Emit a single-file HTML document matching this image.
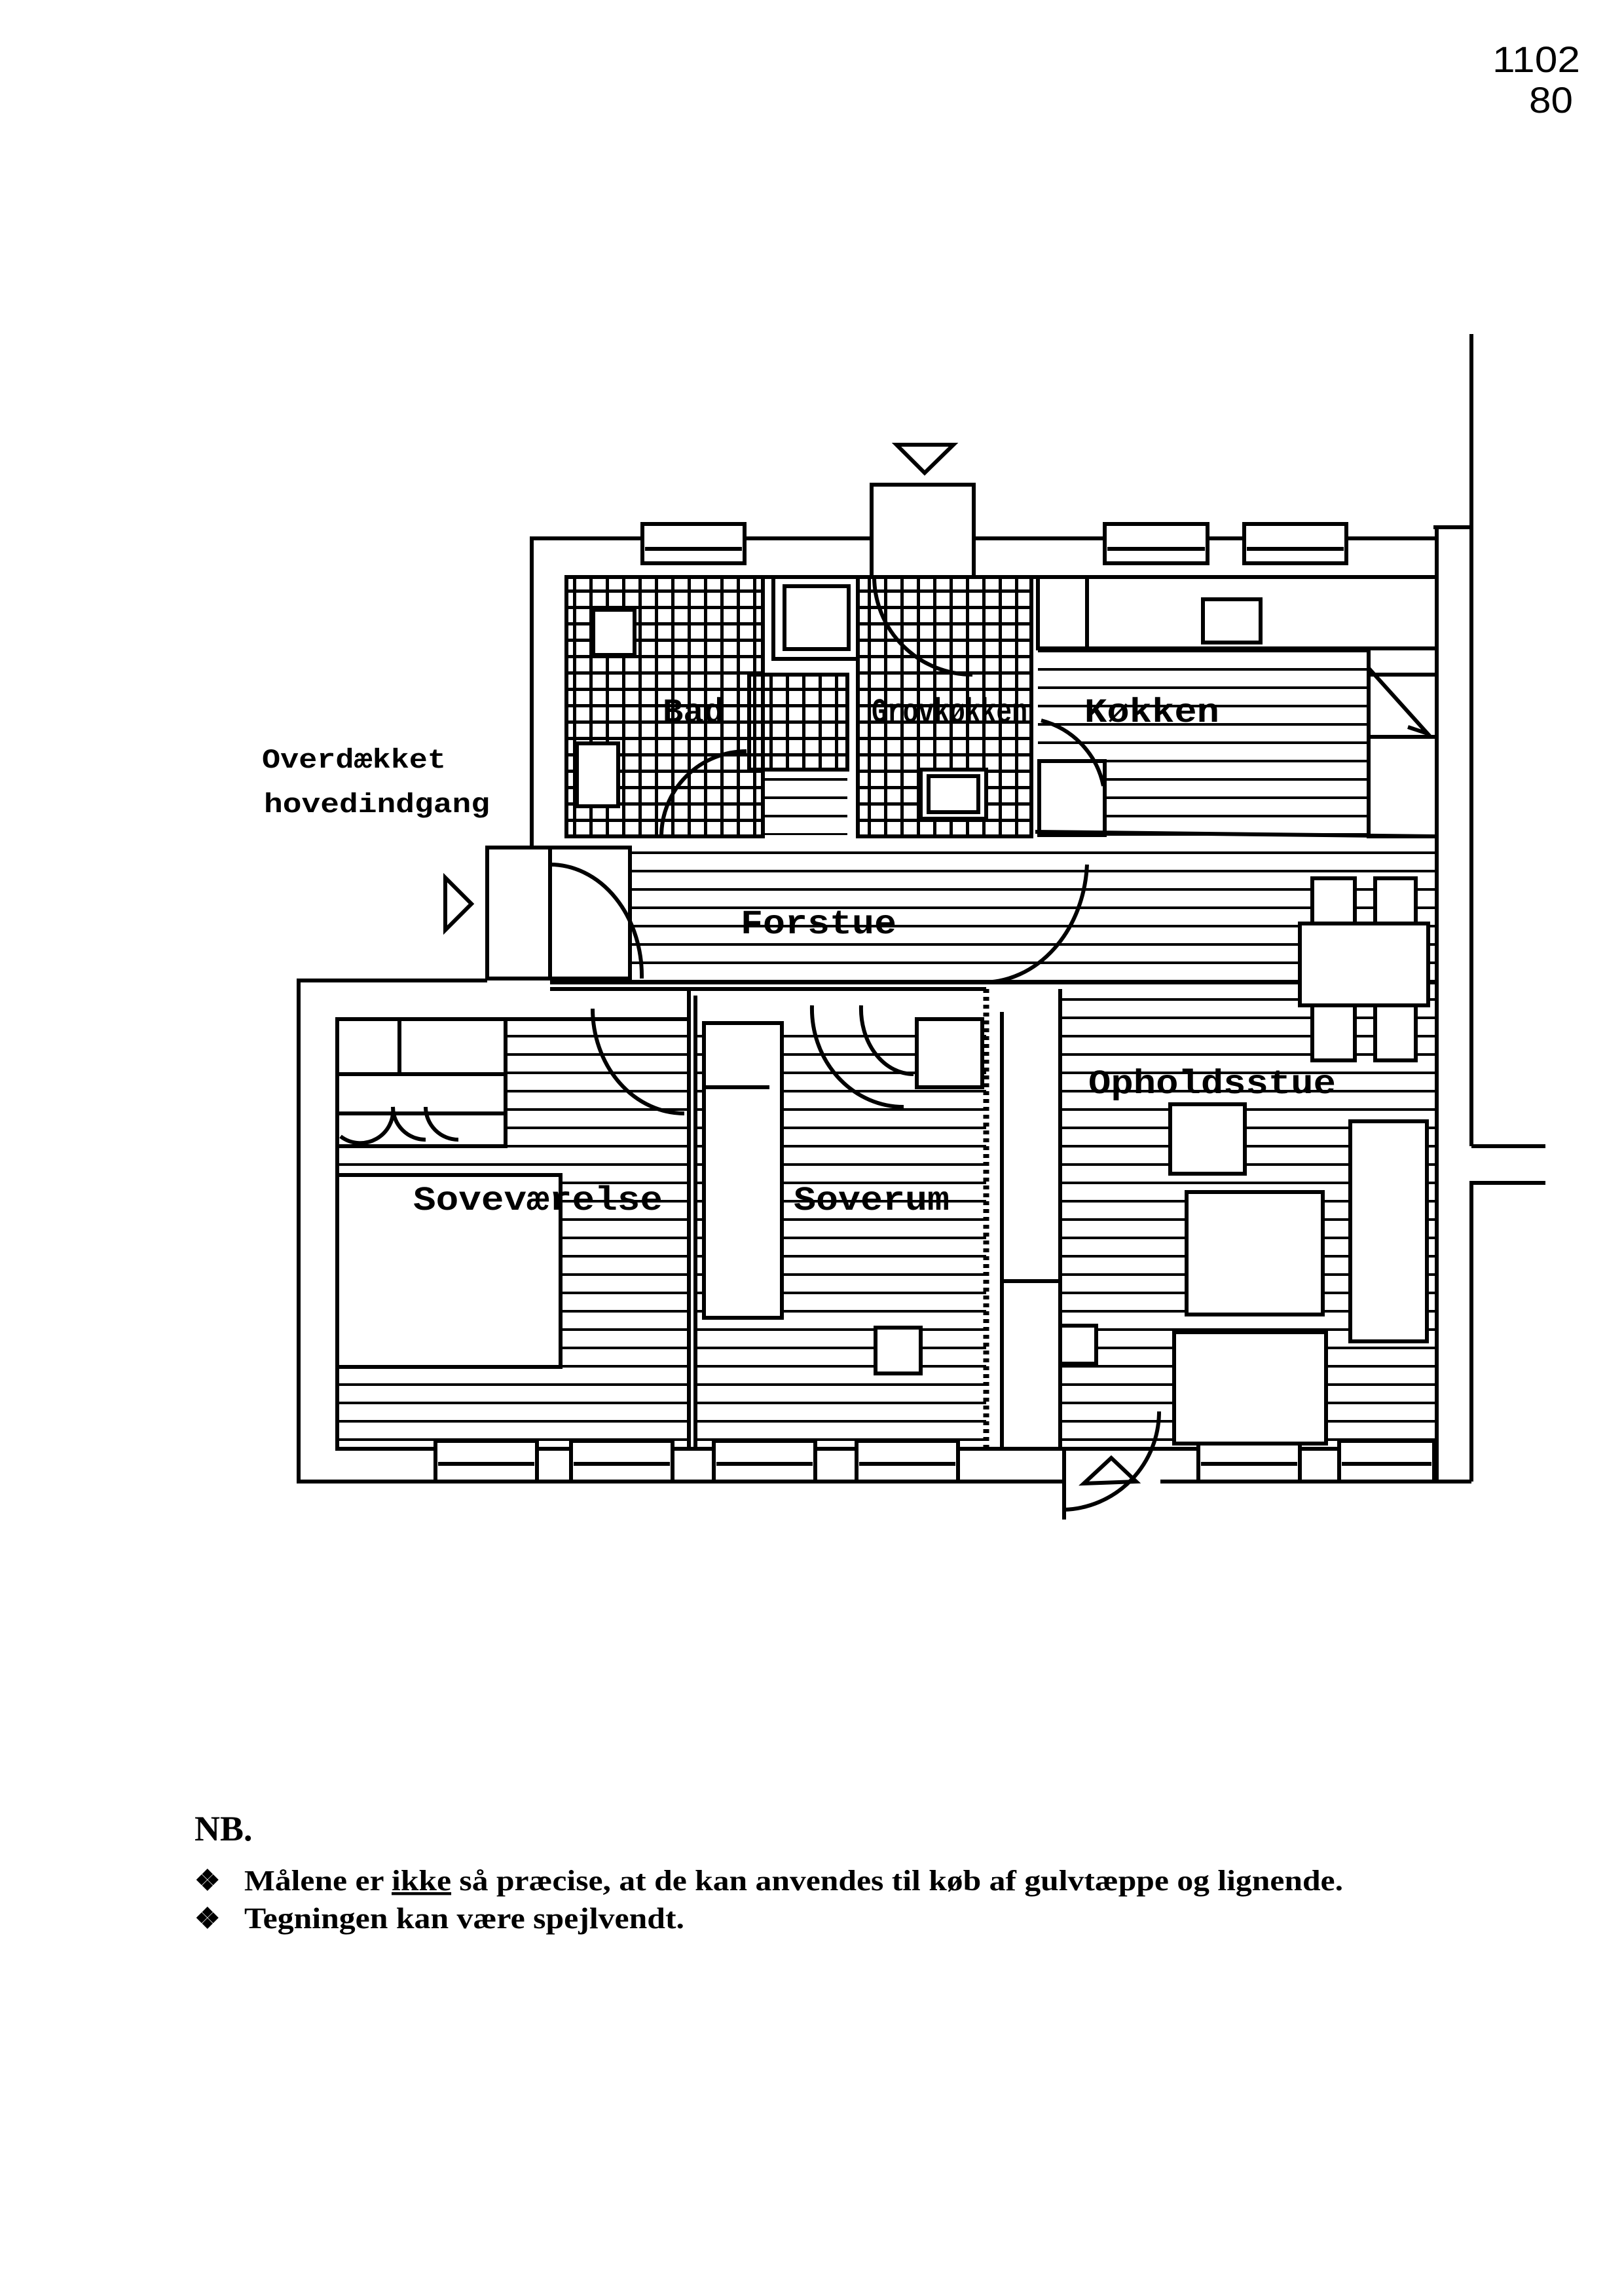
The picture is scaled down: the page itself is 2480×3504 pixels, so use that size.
<!DOCTYPE html>
<html><head><meta charset="utf-8"><style>
html,body{margin:0;padding:0;background:#fff;}
svg{display:block;}
.t{font-family:"Liberation Mono",monospace;font-weight:bold;fill:#000;}
.n{font-family:"Liberation Serif",serif;font-weight:bold;fill:#000;}
</style></head><body>
<svg width="2480" height="3504" viewBox="0 0 2480 3504" xmlns="http://www.w3.org/2000/svg">
<defs>
<pattern id="h" width="40" height="28" patternUnits="userSpaceOnUse"><rect width="40" height="28" fill="#fff"/><rect y="12" width="40" height="4" fill="#000"/></pattern>
<pattern id="g" width="25" height="25" patternUnits="userSpaceOnUse"><rect width="25" height="25" fill="#fff"/><rect width="25" height="5" fill="#000"/><rect width="5" height="25" fill="#000"/></pattern>
</defs>
<g stroke="#000" stroke-width="6" fill="none">
<rect x="1585" y="990" width="505" height="287" fill="url(#h)" stroke="none"/>
<rect x="962" y="1294" width="1232" height="206" fill="url(#h)" stroke="none"/>
<rect x="515" y="1556" width="537" height="656" fill="url(#h)" stroke="none"/>
<rect x="1062" y="1556" width="444" height="656" fill="url(#h)" stroke="none"/>
<rect x="1619" y="1510" width="575" height="702" fill="url(#h)" stroke="none"/>
<rect x="1144" y="1175" width="150" height="100" fill="url(#h)" stroke="none"/>
<rect x="865" y="881" width="300" height="396" fill="url(#g)"/>
<rect x="1310" y="881" width="265" height="396" fill="url(#g)"/>
<rect x="1144" y="1030" width="150" height="145" fill="url(#g)"/>
<polyline points="812,1294 812,822 2194,822"/>
<polyline points="865,1277 865,881 2194,881"/>
<line x1="2194" y1="805" x2="2194" y2="2262"/>
<line x1="2247" y1="510" x2="2247" y2="1750"/>
<line x1="2247" y1="1750" x2="2360" y2="1750"/>
<polyline points="2360,1806 2247,1806 2247,2262"/>
<line x1="2189" y1="805" x2="2247" y2="805"/>
<rect x="981" y="800" width="156" height="60" fill="#fff"/><line x1="985" y1="838" x2="1133" y2="838"/>
<rect x="1687" y="800" width="157" height="60" fill="#fff"/><line x1="1691" y1="838" x2="1840" y2="838"/>
<rect x="1900" y="800" width="156" height="60" fill="#fff"/><line x1="1904" y1="838" x2="2052" y2="838"/>
<rect x="1331" y="740" width="156" height="141" fill="#fff"/>
<polygon points="1369,679 1456,679 1412,722"/>
<path d="M1335,881 A150,150 0 0 0 1485,1030"/>
<rect x="865" y="881" width="300" height="396"/>
<rect x="1310" y="881" width="265" height="396"/>
<rect x="1181" y="881" width="129" height="125" fill="#fff"/><rect x="1198" y="895" width="98" height="96" fill="#fff"/>
<rect x="906" y="931" width="63" height="69" fill="#fff"/>
<rect x="881" y="1135" width="63" height="96" fill="#fff"/>
<rect x="1406" y="1175" width="100" height="75" fill="#fff"/><rect x="1418" y="1185" width="76" height="55" fill="#fff"/>
<rect x="1587" y="1162" width="100" height="113" fill="#fff"/>
<rect x="1585" y="881" width="609" height="109" fill="#fff"/><line x1="1660" y1="881" x2="1660" y2="990"/>
<rect x="1837" y="915" width="88" height="66" fill="#fff"/>
<polyline points="2090,990 2090,1277 2194,1277"/>
<polyline points="2090,1020 2180,1120 2150,1110"/>
<line x1="2090" y1="1030" x2="2194" y2="1030"/>
<line x1="2090" y1="1125" x2="2194" y2="1125"/>
<path d="M1010,1277 A130,130 0 0 1 1140,1147"/>
<path d="M1590,1100 A130,130 0 0 1 1685,1200"/>
<line x1="1581" y1="1270" x2="2194" y2="1277"/>
<rect x="744" y="1294" width="218" height="200" fill="#fff"/>
<polyline points="840,1294 840,1494"/>
<path d="M840,1320 A140,170 0 0 1 980,1494"/>
<polygon points="680,1340 680,1420 720,1380" />
<line x1="840" y1="1500" x2="2194" y2="1500"/>
<line x1="840" y1="1510" x2="1506" y2="1510"/>
<path d="M1660,1320 A160,190 0 0 1 1500,1500"/>
<rect x="1985" y="1410" width="196" height="125" fill="#fff"/>
<rect x="2004" y="1341" width="65" height="69" fill="#fff"/><rect x="2100" y="1341" width="62" height="69" fill="#fff"/>
<rect x="2004" y="1535" width="65" height="84" fill="#fff"/><rect x="2100" y="1535" width="62" height="84" fill="#fff"/>
<polyline points="744,1497 456,1497 456,2262 2247,2262"/>
<polyline points="1052,1556 515,1556 515,2212 2194,2212"/>
<line x1="1052" y1="1510" x2="1052" y2="2212"/>
<line x1="1062" y1="1520" x2="1062" y2="2212"/>
<line x1="1506" y1="1510" x2="1506" y2="2212" stroke-width="9" stroke-dasharray="6 6"/>
<line x1="1619" y1="1510" x2="1619" y2="2212"/>
<line x1="1530" y1="1545" x2="1530" y2="2212"/>
<line x1="1530" y1="1956" x2="1619" y2="1956"/>
<rect x="665" y="2200" width="155" height="62" fill="#fff"/><line x1="669" y1="2235" x2="816" y2="2235"/>
<rect x="872" y="2200" width="155" height="62" fill="#fff"/><line x1="876" y1="2235" x2="1023" y2="2235"/>
<rect x="1090" y="2200" width="155" height="62" fill="#fff"/><line x1="1094" y1="2235" x2="1241" y2="2235"/>
<rect x="1308" y="2200" width="155" height="62" fill="#fff"/><line x1="1312" y1="2235" x2="1459" y2="2235"/>
<rect x="1830" y="2200" width="155" height="62" fill="#fff"/><line x1="1834" y1="2235" x2="1981" y2="2235"/>
<rect x="2045" y="2200" width="145" height="62" fill="#fff"/><line x1="2049" y1="2235" x2="2186" y2="2235"/>
<rect x="1622" y="2215" width="150" height="90" fill="#fff" stroke="none"/>
<line x1="1625" y1="2215" x2="1625" y2="2320"/>
<path d="M1770,2155 A150,150 0 0 1 1625,2305"/>
<polygon points="1697,2226 1655,2265 1735,2262"/>
<rect x="515" y="1556" width="257" height="194" fill="#fff"/>
<line x1="515" y1="1640" x2="772" y2="1640"/><line x1="515" y1="1700" x2="772" y2="1700"/>
<line x1="610" y1="1556" x2="610" y2="1640"/>
<path d="M520,1735 A50,50 0 0 0 600,1690 M600,1690 A50,50 0 0 0 650,1740 M650,1690 A50,50 0 0 0 700,1740"/>
<rect x="515" y="1794" width="341" height="293" fill="#fff"/>
<path d="M905,1540 A140,160 0 0 0 1045,1700"/>
<rect x="1075" y="1562" width="119" height="450" fill="#fff"/><line x1="1075" y1="1660" x2="1175" y2="1660"/>
<rect x="1337" y="2027" width="69" height="70" fill="#fff"/>
<rect x="1400" y="1556" width="100" height="104" fill="#fff"/>
<path d="M1240,1535 A140,150 0 0 0 1380,1690 M1315,1535 A80,100 0 0 0 1395,1640"/>
<rect x="1787" y="1686" width="114" height="106" fill="#fff"/>
<rect x="1812" y="1820" width="208" height="187" fill="#fff"/>
<rect x="2062" y="1712" width="117" height="336" fill="#fff"/>
<rect x="1793" y="2034" width="232" height="170" fill="#fff"/>
<rect x="1619" y="2024" width="55" height="58" fill="#fff"/>
</g>
<text class="t" x="400" y="1172" font-size="42" textLength="281" lengthAdjust="spacingAndGlyphs">Overdækket</text>
<text class="t" x="403" y="1240" font-size="42" textLength="345" lengthAdjust="spacingAndGlyphs">hovedindgang</text>
<text class="t" x="1012" y="1102" font-size="52" textLength="94" lengthAdjust="spacingAndGlyphs">Bad</text>
<text class="t" x="1331" y="1102" font-size="52" textLength="238" lengthAdjust="spacingAndGlyphs">Grovkøkken</text>
<text class="t" x="1656" y="1102" font-size="52" textLength="206" lengthAdjust="spacingAndGlyphs">Køkken</text>
<text class="t" x="1131" y="1425" font-size="52" textLength="238" lengthAdjust="spacingAndGlyphs">Forstue</text>
<text class="t" x="1662" y="1669" font-size="52" textLength="378" lengthAdjust="spacingAndGlyphs">Opholdsstue</text>
<text class="t" x="631" y="1847" font-size="52" textLength="381" lengthAdjust="spacingAndGlyphs">Soveværelse</text>
<text class="t" x="1212" y="1847" font-size="52" textLength="238" lengthAdjust="spacingAndGlyphs">Soverum</text>
<text x="2279" y="110" font-family="Liberation Sans,sans-serif" font-size="56" textLength="134" lengthAdjust="spacingAndGlyphs">1102</text>
<text x="2335" y="172" font-family="Liberation Sans,sans-serif" font-size="56" textLength="67" lengthAdjust="spacingAndGlyphs">80</text>
<text class="n" x="297" y="2810" font-size="54">NB.</text>
<text class="n" x="297" y="2886" font-size="44">❖</text>
<text class="n" x="373" y="2886" font-size="44" textLength="1678" lengthAdjust="spacingAndGlyphs">Målene er <tspan text-decoration="underline">ikke</tspan> så præcise, at de kan anvendes til køb af gulvtæppe og lignende.</text>
<text class="n" x="297" y="2944" font-size="44">❖</text>
<text class="n" x="373" y="2944" font-size="46" textLength="672" lengthAdjust="spacingAndGlyphs">Tegningen kan være spejlvendt.</text>
</svg>
</body></html>
